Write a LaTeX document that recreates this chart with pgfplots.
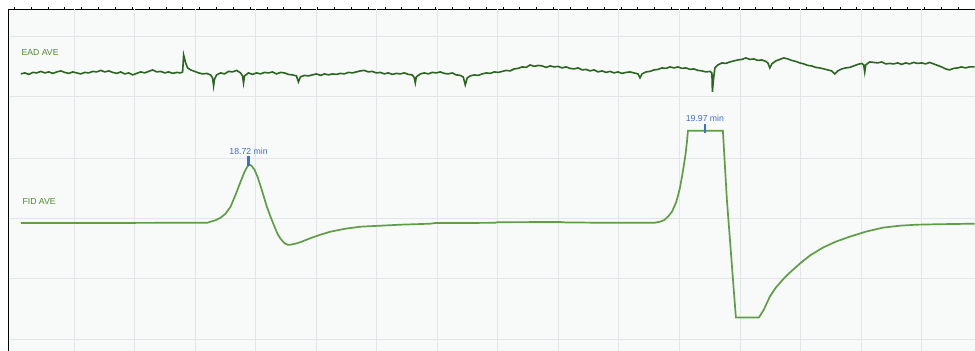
\documentclass[border=0pt]{standalone}
\usepackage{pgfplots}
\pgfplotsset{compat=1.18}
\usepackage{fontspec}
\setmainfont{Liberation Sans}
\definecolor{eadgreen}{HTML}{2B6620}
\definecolor{fidgreen}{HTML}{5E9E45}
\definecolor{lblgreen}{HTML}{4C8C2E}
\definecolor{annblue}{HTML}{3B6FD1}
\definecolor{gridc}{HTML}{E3E6E9}
\definecolor{bgc}{HTML}{F8F9F9}
\begin{document}
\begin{tikzpicture}[x=1pt,y=1pt]
\begin{axis}[name=ax, at={(8,0)}, anchor=south west, scale only axis,
  width=967pt, height=342pt, xmin=8, xmax=975, ymin=0, ymax=342,
  axis x line=top, axis y line=left,
  axis line style={-, black, line width=0.9pt},
  axis background/.style={fill=bgc},
  xtick={13.3,30.175,...,975}, xticklabels={}, tick align=outside,
  major tick length=2pt, tick style={black, line width=0.6pt},
  ytick=\empty,
  extra x ticks={73.5,134.1,...,930}, extra x tick labels={},
  extra x tick style={grid=major, tick style={draw=none}},
  extra y ticks={11,72,132,192,254,315}, extra y tick labels={},
  extra y tick style={grid=major, tick style={draw=none}},
  major grid style={gridc, line width=0.9pt},
  clip=true]
\addplot[fidgreen, line width=1.7pt, no markers] table[x=x, y expr=351-\thisrow{py}] {
x py
20 223.3
100 223.3
207 223
210 222
215 220.5
220 218
225 214
230 207
235 195
240 182
244 172
247 166.5
249 165
251 166
254 170
257 177
260 186
263 196
266 206
270 217
274 227
277 234
280 239
284 243.5
287 245
290 245
295 244
300 242.5
310 238.5
320 235
330 232
345 229
360 227
380 226
400 225
430 224
435 223.3
480 223.2
495 223.1
497 222.5
560 222.3
565 222.7
595 223
655 223
660 222
664 220.5
668 217
672 212
676 203
678 196
680 188
682 177
684 165
685.5 155
687 142
688 131
723 131
727 200
736 318
759 318
764 310
770 297
776 288
783 280
790 273
800 264
810 256
823 248
836 242
850 237
866 232
883 228
900 226
917 225
940 224.5
975 224
};
\addplot[eadgreen, line width=1.6pt, no markers] table[x=x, y expr=351-\thisrow{py}] {
x py
20 74
24 73
28 74.5
32 72.5
36 73
40 71.5
44 73
48 72
52 73.5
56 72
60 71
64 72.5
68 73.5
72 72
76 73
80 74
84 72.5
88 73
92 71.5
96 72
100 70.5
104 72
108 71
112 72.5
116 73.5
120 72
124 74
128 73
132 75
136 73.5
140 72
144 73
148 71.5
152 70
156 72
160 71.5
164 73
168 72
172 73.5
176 72.5
180 73
182 72
183 55
185 63
187 68
190 70
194 71.5
198 73
202 74
206 73.5
210 75
212 78
213 86
214 79
216 75
220 73
224 74
228 71.5
232 72
236 70.5
240 73
242 76
243 83
244 76
248 73
252 74.5
256 73
260 74
264 72.5
268 73
272 72
276 74
280 72.5
284 73
288 74.5
292 75
296 76
298 82
300 77
304 75.5
308 76
312 75
316 74
320 75.5
324 74
328 75
332 74
336 74.5
340 73.5
344 74
348 72.5
352 73
356 72
360 71
364 70.5
368 72
372 71.5
376 73
380 72.5
384 74
388 73
392 74.5
396 73.5
400 74
404 73
408 74.5
412 75
414 78
415 83
416 77
420 74
424 73
428 74
432 72.5
436 73
440 72
444 73.5
448 74
452 73
456 75
460 75.5
463 77
465 85
467 78
470 76
474 75
478 75.5
482 74
486 73
490 73.5
494 72
498 72.5
502 71.5
506 70.5
510 71
514 69
518 68.5
522 67
526 67.5
530 65
534 66.5
538 65.5
542 66
546 67.5
550 66
554 67
558 66.5
562 68
566 67
570 68.5
574 69
578 68
582 70
586 69.5
590 71
594 70
598 72
602 71
606 72.5
610 71.5
614 73
618 72
622 73.5
626 72.5
630 72
634 73
638 74
640 78
642 74
646 72
650 71.5
654 70
658 69.5
662 68
666 68.5
670 67
674 68
678 67
682 68.5
686 68
690 69.5
694 69
698 70.5
702 71
706 72
710 71.5
712 73
712.5 92
713.5 80
715 68
718 65
722 63
726 63.5
730 62
734 61
738 60
742 59.5
746 58
750 59.5
754 59
758 60.5
762 60
766 61.5
768 63
770 68
772 64
776 61
780 59.5
784 58
788 59
792 60.5
796 61.5
800 63
804 64
808 65.5
812 66
816 67.5
820 68
824 69
828 70
832 71
835 74
838 71
842 69
846 68
850 67.5
854 66
858 64.5
862 63.5
864 65
865 72
866 65
870 62
874 62.5
878 63
882 62
886 64
890 63.5
894 64
898 63
902 64.5
906 63
910 64
914 62.5
918 63.5
922 63
926 64
930 62.5
934 64
938 65.5
942 67
946 69
950 70
954 68.5
958 68
962 67
966 68
970 67
975 67
};
\addplot[annblue, line width=2.2pt, no markers] coordinates {(248,195) (248,185)};
\addplot[annblue, line width=2.2pt, no markers] coordinates {(705,227) (705,218)};
\node[anchor=west, inner sep=0, text=lblgreen, font=\fontsize{8.7}{10}\selectfont] at (axis cs:20.5,298.5) {EAD AVE};
\node[anchor=west, inner sep=0, text=lblgreen, font=\fontsize{8.7}{10}\selectfont] at (axis cs:21.5,149) {FID AVE};
\node[inner sep=0, text=annblue, font=\fontsize{8.7}{10}\selectfont] at (axis cs:248,199.5) {18.72 min};
\node[inner sep=0, text=annblue, font=\fontsize{8.7}{10}\selectfont] at (axis cs:705,232.5) {19.97 min};
\end{axis}
\path (0,0) rectangle (975,351);
\end{tikzpicture}
\end{document}
